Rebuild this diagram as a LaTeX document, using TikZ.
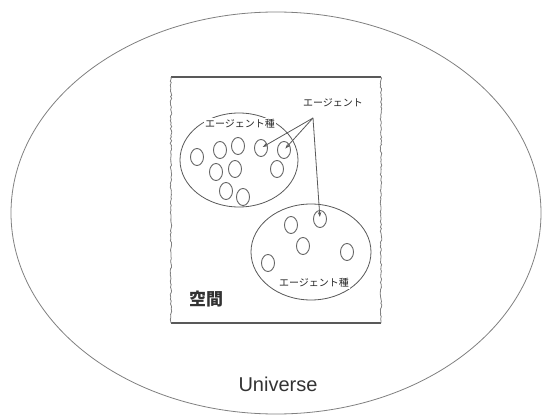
\documentclass[tikz,border=0pt]{standalone}
\usepackage{fontspec}
\setmainfont{Liberation Sans}
\newfontfamily\jpfont{Noto Sans CJK JP}
\usetikzlibrary{shapes.geometric,arrows.meta,decorations.pathmorphing}
\begin{document}
\begin{tikzpicture}[x=1pt,y=-1pt,
  line/.style={draw=black!65,line width=0.8pt},
  agent/.style={ellipse,draw=black!60,line width=0.9pt,minimum width=13pt,minimum height=17pt,inner sep=0pt},
  cluster/.style={ellipse,line,inner sep=0pt},
  jlabel/.style={font=\jpfont\fontsize{10}{11}\selectfont,inner sep=1pt,text=black!85},
  pointer/.style={line,-{Stealth[length=5pt,width=3.5pt]},shorten >=2pt}
]
\useasboundingbox (0,0) rectangle (542,415);
\fill[white] (0,0) rectangle (542,415);
% universe
\node[ellipse,draw=black!50,line width=0.8pt,minimum width=530pt,minimum height=402pt,inner sep=0pt] (universe) at (276,213) {};
\node[font=\fontsize{20}{22}\selectfont,text=black!80] (utext) at (278,384) {Universe};
% space rectangle
\coordinate (tl) at (171,77);
\coordinate (tr) at (381,77);
\coordinate (bl) at (171,323);
\coordinate (br) at (381,323);
\draw[draw=black!65,line width=2pt] (tl) -- (tr);
\draw[draw=black!65,line width=1.2pt] (bl) -- (br);
\draw[draw=black!50,line width=0.8pt,decorate,decoration={random steps,segment length=2pt,amplitude=0.8pt}] (tl) -- (bl);
\draw[draw=black!50,line width=0.8pt,decorate,decoration={random steps,segment length=2pt,amplitude=0.8pt}] (tr) -- (br);
\node[font=\jpfont\bfseries\fontsize{17}{18}\selectfont,text=black!80] (space) at (206,299) {空間};
% clusters
\node[cluster,minimum width=118pt,minimum height=94pt] (cl1) at (239,160) {};
\node[cluster,minimum width=120pt,minimum height=96pt] (cl2) at (311,252) {};
% left cluster agents
\node[agent] (a1) at (197,157) {};
\node[agent] (a2) at (220,150) {};
\node[agent] (a3) at (238,146) {};
\node[agent] (a4) at (261,148) {};
\node[agent] (a5) at (284,150) {};
\node[agent] (a6) at (216,172) {};
\node[agent] (a7) at (235,169) {};
\node[agent] (a8) at (277,169) {};
\node[agent] (a9) at (226,191) {};
\node[agent] (a10) at (243,197) {};
% right cluster agents
\node[agent] (b1) at (291,225) {};
\node[agent] (b2) at (320,219) {};
\node[agent] (b3) at (303,246) {};
\node[agent] (b4) at (268,263) {};
\node[agent] (b5) at (347,252) {};
% labels
\node[jlabel,fill=white] (l1) at (240,124) {エージェント種};
\node[jlabel,fill=white] (l2) at (314,283) {エージェント種};
\node[jlabel] (agentlbl) at (333,103) {エージェント};
\coordinate (src) at (313,118);
\draw[pointer] (src) -- (a4.center);
\draw[pointer] (src) -- (a5.center);
\draw[pointer] (src) -- (b2.center);
\end{tikzpicture}
\end{document}
